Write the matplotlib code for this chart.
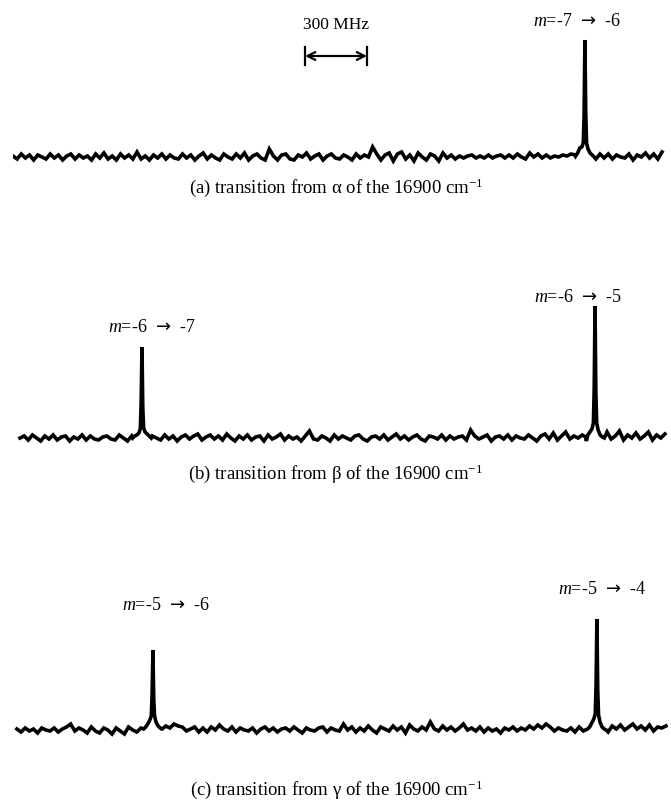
import numpy as np
import matplotlib
matplotlib.use("Agg")
import matplotlib.pyplot as plt

plt.rcParams['font.family'] = ['Liberation Serif', 'DejaVu Serif']
plt.rcParams['mathtext.fontset'] = 'custom'
plt.rcParams['mathtext.rm'] = 'Liberation Serif'
plt.rcParams['mathtext.it'] = 'Liberation Serif:italic'
plt.rcParams['mathtext.sf'] = 'DejaVu Sans'

# frequency step of the baseline samples (MHz)
step = 20

# baseline noise of each trace (arbitrary units)
noise_a = [1, -2, 3, -1, 2, -3, 2, 0, -2, 3, -1, 2, -3, 1, 3, -2, 2, -1, 1, -3,
           3, -1, 4, -2, 1, -3, 3, -1, 2, -2, 5, -2, 1, -3, 2, -1, 3, -2, 2, -1,
           -2, 3, -1, 2, -3, 1, 4, -2, 2, -1, -3, 3, 0, -2, 3, -1, 4, -3, 1, 3,
           -1, -3, 8, 1, -3, 2, 3, -2, -3, 2, 0, 4, -2, 1, 3, -3, 1, 3, -1, -2,
           2, 0, -3, 3, -1, 2, 0, 10, 3, -3, 2, 4, -4, 3, 5, -2, 2, -4, 4, 0,
           -3, 3, 1, -4, 4, -1, 2, -2, 1, -1, 1, 2, -1, 1, -1, 2, -1, 1, 2, -1,
           2, -1, 3, 0, -2, 4, 0, 3, -1, 2, -1, 1, 0, 2, 1, 3, 2, 1, 2, 0,
           2, -2, 3, -1, 3, -2, 2, 0, -1, 3, -3, 2, 0, 4, -1, 3, -2, 5]
noise_b = [0, 2, -2, 3, 0, -3, 2, -1, 3, -2, 1, 2, -3, 1, -1, 3, -2, 2, -1, -2,
           1, 2, -1, -2, 3, 0, -3, 2, 4, -2, 1, -1, 2, 0, -2, 3, -1, 2, -3, 1,
           3, -1, 2, 4, -2, 1, 3, -1, 2, -2, 4, 0, -3, 2, -1, 3, -2, 1, 2, -3,
           3, -1, 1, 4, -2, 2, -1, 1, -3, 2, 7, -1, -2, 2, 0, -3, 3, -1, 2, 0,
           -2, 2, 3, -1, -3, 1, 2, -1, 3, -2, 1, 4, -1, 2, -2, 1, 3, -1, -3, 2,
           1, -1, 3, -2, 2, -1, 1, 2, -2, 8, 2, -1, 1, 3, -3, 1, 2, -1, 3, -2,
           2, 0, -1, 3, 0, -3, 2, 4, -1, 5, -2, 2, 6, -1, 2, 0, 3, -3, 1, -1,
           2, 3, 6, -1, 2, 7, -2, 3, 0, 5, -1, 2, 6, -2, 3, 0, 4]
noise_c = [1, -2, 2, -1, 1, -3, 2, 0, -1, 2, -2, 1, 3, 6, -1, 2, 0, -3, 3, -1,
           -3, 2, 0, -4, 2, -1, -4, 3, 0, -2, 2, 4, 0, 3, 5, 1, 4, 2, 6, 4,
           3, -1, 1, 3, -2, 2, -2, 3, 0, 5, 1, -1, 3, -2, 2, 0, -1, 2, -3, 1,
           3, -1, 2, -2, 1, 2, -1, 3, 0, -3, 2, 0, -1, 2, 3, -2, 2, 0, -1, 6,
           0, 3, -2, 2, -1, 4, 0, -3, 3, 1, -1, 4, 0, 3, -3, 5, 1, -1, 3, 0,
           8, 1, -1, 4, 0, 3, -1, 2, 6, 0, 2, -1, 3, -2, 2, -1, 1, -3, 2, 0,
           3, -1, 2, 0, 4, 1, 5, 2, 6, 3, -1, 2, 0, -1, 2, -2, 3, -1, 1, 2,
           -1, 3, 0, -2, 4, 1, 5, 0, 3, 6, 1, 4, 0, 5, -1, 3, 2, 4]

# start frequency of each scan (MHz)
start_a = 0
start_b = 34
start_c = 19

# peak centres (MHz) and line shapes around them
peak_offsets = [-45, -35, -25, -15, -8, -4, 0, 4, 8, 15, 25, 35, 45]
peaks_a = [2767]
shapes_a = [[1, 4, 9, 10, 14, 40, 117, 45, 14, 8, 4, 2, 0]]
peaks_b = [624, 2816]
shapes_b = [[0, 2, 3, 5, 9, 35, 91, 30, 10, 6, 4, 2, 0],
            [1, 3, 6, 9, 15, 50, 132, 45, 15, 8, 3, 1, 0]]
peaks_c = [677, 2825]
shapes_c = [[1, 3, 6, 10, 14, 35, 80, 30, 14, 8, 4, 2, 1],
            [1, 3, 7, 11, 16, 45, 111, 40, 15, 8, 3, 1, 0]]

arrow = "$\\mathsf{\u2192}$"
labels_a = ["$m$=-7  " + arrow + "  -6"]
labels_b = ["$m$=-6  " + arrow + "  -7", "$m$=-6  " + arrow + "  -5"]
labels_c = ["$m$=-5  " + arrow + "  -6", "$m$=-5  " + arrow + "  -4"]
captions = ["(a) transition from \u03b1 of the 16900 cm$^{\\mathregular{-1}}$",
            "(b) transition from \u03b2 of the 16900 cm$^{\\mathregular{-1}}$",
            "(c) transition from \u03b3 of the 16900 cm$^{\\mathregular{-1}}$"]
scale_bar = 300  # MHz


def build_trace(noise, start, peaks, shapes):
    x = start + np.arange(len(noise)) * step
    y = np.array(noise, dtype=float)
    keep = np.ones(len(x), dtype=bool)
    for p in peaks:
        keep &= np.abs(x - p) > 40
    xs = [x[keep]]
    ys = [y[keep]]
    for p, s in zip(peaks, shapes):
        xs.append(p + np.array(peak_offsets))
        ys.append(np.array(s, dtype=float))
    x = np.concatenate(xs)
    y = np.concatenate(ys)
    order = np.argsort(x)
    return x[order], y[order]


W, H = 671, 801
fig = plt.figure(figsize=(W / 100, H / 100), dpi=100)

panels = [(noise_a, start_a, peaks_a, shapes_a, labels_a, 157),
          (noise_b, start_b, peaks_b, shapes_b, labels_b, 438),
          (noise_c, start_c, peaks_c, shapes_c, labels_c, 730)]
# label positions (MHz, height) for each panel
label_pos = [[(2729, 135)],
             [(672, 111), (2733, 141)],
             [(740, 125), (2850, 140)]]
caption_y = [188, 474, 790]

axes = []
for k, (noise, start, peaks, shapes, labels, base) in enumerate(panels):
    ax = fig.add_axes([13 / W, 1 - (base + 20) / H, 655 / W, 160 / H])
    x, y = build_trace(noise, start, peaks, shapes)
    ax.plot(x, y, color='black', lw=2.6, solid_joinstyle='miter')
    ax.set_xlim(0, 3169)
    ax.set_ylim(-20, 140)
    ax.axis('off')
    for lab, (lx, ly) in zip(labels, label_pos[k]):
        ax.text(lx, ly, lab, ha='center', va='center', fontsize=13)
    fig.text(336 / W, 1 - caption_y[k] / H, captions[k], ha='center',
             va='center', fontsize=13.5)
    axes.append(ax)

# 300 MHz scale bar
ax = axes[0]
x0 = 1413
ax.annotate('', xy=(x0, 101), xytext=(x0 + scale_bar, 101),
            arrowprops=dict(arrowstyle='<->', lw=1.6, color='black',
                            shrinkA=0, shrinkB=0, mutation_scale=14))
ax.plot([x0, x0], [92, 110], color='black', lw=1.6)
ax.plot([x0 + scale_bar, x0 + scale_bar], [92, 110], color='black', lw=1.6)
ax.text(x0 + scale_bar / 2, 132, "300 MHz", ha='center', va='center',
        fontsize=12.5)

fig.savefig('out.png', dpi=100)
